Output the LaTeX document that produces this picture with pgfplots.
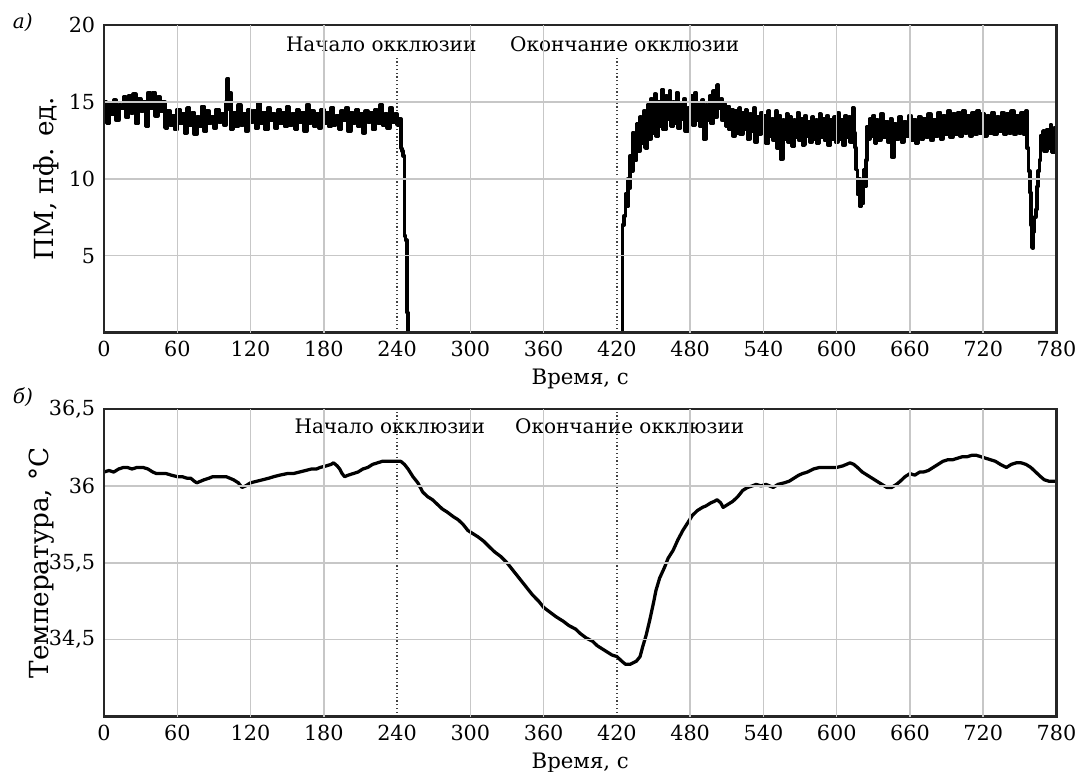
\documentclass[border=0pt]{standalone}
\usepackage{fontspec}
\setmainfont{DejaVu Serif}
\usepackage{pgfplots}
\pgfplotsset{compat=1.18}

\pgfplotstableread{
t v
0 15.0
2 13.6
4 14.9
6 14.2
8 15.1
10 13.8
12 14.8
14 14.6
16 15.3
18 14.0
20 15.4
22 14.3
24 15.5
26 13.6
28 15.2
30 14.4
32 15.0
34 13.4
36 15.6
38 14.6
40 15.6
42 14.1
44 15.3
46 14.4
48 15.0
50 13.3
52 14.4
54 13.5
56 14.1
58 13.2
60 14.5
62 13.6
64 14.2
66 13.0
68 14.6
70 13.5
72 14.3
74 12.9
76 14.0
78 13.4
80 14.7
82 13.1
84 14.4
86 13.6
88 14.0
90 13.3
92 14.5
94 13.7
96 14.2
98 13.5
100 15.0
101 16.5
102 14.5
103 15.6
104 13.2
106 14.3
108 13.4
110 14.8
112 13.5
114 14.2
116 13.1
118 14.5
120 13.7
122 14.4
124 13.3
126 14.9
128 13.6
130 14.3
132 13.2
134 14.6
136 13.8
138 14.2
140 13.3
142 14.5
144 13.6
146 14.3
148 13.4
150 14.7
152 13.5
154 14.2
156 13.2
158 14.5
160 13.7
162 14.3
164 13.1
166 14.8
168 13.6
170 14.4
172 13.4
174 14.2
176 13.3
178 14.5
180 13.6
182 14.3
184 13.4
186 14.6
188 13.5
190 14.1
192 13.2
194 14.4
196 13.8
198 14.6
200 13.1
202 14.3
204 13.6
206 14.5
208 13.4
210 14.2
212 13.0
214 14.4
216 13.7
218 14.3
220 13.2
222 14.5
224 13.6
226 14.8
228 13.5
230 14.2
232 13.3
234 14.6
236 13.7
238 14.2
240 13.5
242 13.9
243 12.0
244 11.8
245 11.5
246 6.3
247 6.0
248 1.3
249 0
300 0
360 0
423 0
424 0
424.5 7.0
426 7.6
427 9.0
428 8.2
429 10.0
430 9.4
431 11.5
432 10.5
433 13.0
434 11.2
436 13.6
437 11.8
439 14.0
440 12.3
442 14.4
443 12.0
445 14.8
446 12.6
448 15.2
449 13.0
451 15.5
452 12.8
454 15.0
455 13.4
457 15.8
458 13.2
460 15.4
461 13.9
463 15.7
464 13.4
466 15.0
467 13.6
469 15.6
470 13.3
472 14.8
473 13.9
475 15.2
476 13.1
478 14.6
479 13.7
481 15.4
482 13.5
484 15.6
485 13.8
487 14.9
488 13.4
490 15.1
491 12.6
493 14.8
494 13.8
496 15.4
497 13.6
499 15.7
500 14.0
502 16.1
503 14.6
505 15.2
506 13.8
508 14.9
509 13.4
511 14.7
512 13.2
514 14.5
515 12.8
517 14.4
518 13.0
520 14.6
521 12.9
523 14.3
524 13.2
526 14.5
527 12.6
529 14.2
530 13.1
532 14.6
533 12.4
535 14.0
536 12.9
538 14.3
539 13.0
541 14.1
542 12.3
544 14.4
545 12.8
547 13.9
548 12.5
550 14.4
551 12.0
553 14.1
554 11.3
556 13.8
557 12.6
559 14.2
560 12.4
562 14.0
563 12.1
565 13.8
566 12.7
568 14.3
569 12.5
571 13.9
572 12.2
574 14.1
575 12.8
577 13.7
578 12.4
580 14.0
581 12.6
583 13.8
584 12.3
586 14.2
587 12.7
589 13.9
590 12.5
592 14.1
593 12.2
595 13.8
596 12.6
598 14.0
599 12.4
601 14.3
602 12.6
604 13.8
605 12.2
607 14.1
608 12.7
610 14.0
611 12.4
613 14.6
614 13.0
615 12.0
616 10.6
617 9.0
618 10.0
619 8.2
620 9.4
621 8.4
622 10.6
623 9.5
624 11.2
625 13.4
626 12.6
627 13.9
628 12.8
630 14.1
631 12.3
632 13.8
634 12.5
636 14.2
638 12.7
640 13.7
642 12.4
644 13.9
645 11.4
647 13.6
649 12.6
651 14.0
653 12.4
655 13.7
657 12.8
659 14.1
661 12.5
663 13.8
665 12.3
667 14.0
669 12.6
671 13.9
673 12.7
675 14.2
677 12.5
679 13.8
681 12.8
683 14.3
685 12.6
687 14.1
689 12.9
691 14.4
693 12.7
695 14.2
697 12.9
699 14.3
701 12.8
703 14.4
705 13.0
707 14.1
709 12.8
711 14.3
713 12.9
715 14.4
717 13.0
719 14.2
721 12.8
723 14.1
725 13.0
727 14.3
729 12.9
731 14.0
733 13.1
735 14.3
737 12.9
739 14.2
741 13.0
743 14.4
745 12.9
747 14.1
749 13.0
751 14.3
753 12.9
755 14.4
756 12.0
757 10.5
758 9.1
759 7.0
760 5.5
761 6.5
762 7.5
763 8.0
764 9.5
765 10.5
766 11.2
767 12.8
768 11.9
769 13.1
770 11.8
772 13.2
773 12.0
775 13.5
776 11.7
778 13.3
779 12.2
780 12.9
}\pmdata

\pgfplotstableread{
t T
0 36.09
4 36.10
8 36.09
12 36.11
16 36.12
19 36.12
23 36.11
27 36.12
32 36.12
36 36.11
40 36.09
43 36.08
47 36.08
51 36.08
55 36.07
60 36.06
64 36.06
68 36.05
71 36.05
74 36.03
76 36.02
79 36.03
82 36.04
86 36.05
89 36.06
93 36.06
97 36.06
100 36.06
103 36.05
106 36.04
110 36.02
113 35.99
116 36.00
120 36.02
125 36.03
130 36.04
135 36.05
139 36.06
144 36.07
150 36.08
155 36.08
160 36.09
165 36.10
170 36.11
174 36.11
177 36.12
182 36.13
186 36.14
188 36.15
191 36.13
193 36.11
195 36.08
197 36.06
200 36.07
204 36.08
208 36.09
212 36.11
216 36.12
220 36.14
224 36.15
228 36.16
233 36.16
238 36.16
243 36.16
246 36.14
249 36.11
253 36.06
257 36.02
261 35.96
265 35.93
269 35.91
273 35.88
277 35.85
281 35.83
286 35.80
290 35.78
294 35.75
298 35.71
302 35.69
306 35.67
311 35.64
316 35.60
320 35.57
325 35.54
330 35.50
334 35.46
338 35.42
343 35.37
347 35.33
351 35.29
356 35.25
360 35.21
365 35.18
370 35.15
376 35.12
381 35.09
386 35.07
390 35.04
395 35.01
400 34.99
404 34.96
408 34.94
412 34.92
416 34.90
420 34.89
424 34.86
427 34.84
431 34.84
436 34.86
439 34.89
441 34.95
444 35.03
447 35.13
450 35.24
452 35.32
455 35.40
459 35.47
462 35.53
466 35.58
470 35.65
474 35.71
478 35.76
482 35.81
486 35.84
490 35.86
493 35.87
497 35.89
500 35.90
502 35.91
505 35.89
507 35.86
511 35.88
515 35.90
519 35.93
523 35.97
527 35.99
531 36.00
534 36.01
538 36.00
542 36.01
545 36.00
548 35.99
552 36.01
557 36.02
561 36.03
565 36.05
569 36.07
572 36.08
576 36.09
581 36.11
586 36.12
590 36.12
595 36.12
600 36.12
605 36.13
608 36.14
611 36.15
614 36.14
617 36.12
621 36.09
625 36.07
629 36.05
633 36.03
637 36.01
641 35.99
645 35.99
649 36.01
652 36.03
656 36.06
660 36.08
664 36.07
668 36.09
671 36.09
675 36.10
679 36.12
683 36.14
687 36.16
691 36.17
695 36.17
699 36.18
703 36.19
707 36.19
711 36.20
714 36.20
718 36.19
722 36.18
726 36.17
730 36.16
734 36.14
739 36.12
743 36.14
747 36.15
751 36.15
755 36.14
759 36.12
763 36.09
767 36.06
770 36.04
774 36.03
780 36.03
}\tempdata

\pgfplotsset{myax/.style={
  scale only axis, width=381pt, height=123pt,
  xmin=0, xmax=780, xtick={0,60,...,780},
  extra x ticks={60,120,180,300,360,480,540,600,660,720},
  extra x tick labels={},
  extra x tick style={xmajorgrids=true},
  ymajorgrids,
  grid style={black!22, line width=0.6pt},
  major tick length=0pt,
  axis line style={line width=0.9pt, black!85},
  tick label style={font=\fontsize{8.3}{9}\selectfont},
  xlabel style={font=\fontsize{8.5}{9}\selectfont, yshift=2pt},
  ylabel style={font=\fontsize{10.5}{11}\selectfont},
  /pgf/number format/assume math mode=true,
  xlabel={Время, с},
  axis on top,
}}

\begin{document}
\begin{tikzpicture}
\useasboundingbox (-41.6pt,-175.6pt) rectangle (388.4pt,133pt);
\begin{axis}[myax, at={(0,0)}, anchor=south west,
  ymin=0, ymax=20, ytick={5,10,15,20},
  ylabel={ПМ, пф. ед.}, ylabel style={yshift=-3pt}]
\node[fill=white, inner sep=1.5pt, font=\fontsize{8}{9}\selectfont] at (axis cs:227,18.77) {Начало окклюзии};
\node[fill=white, inner sep=1.5pt, font=\fontsize{8}{9}\selectfont] at (axis cs:426.4,18.77) {Окончание окклюзии};
\addplot[black!75, densely dotted, line width=0.5pt] coordinates {(240,0) (240,18)};
\addplot[black!75, densely dotted, line width=0.5pt] coordinates {(420,0) (420,18)};
\addplot[black, line width=1.5pt, line join=round, const plot] table[x=t, y=v] {\pmdata};
\end{axis}
\node[font=\fontsize{8}{9}\selectfont\itshape, anchor=west] at (-40pt,124.2pt) {а)};
\begin{axis}[myax, at={(0,-153.6pt)}, anchor=south west,
  ymin=34.5, ymax=36.5, ytick={35,35.5,36,36.5},
  yticklabels={{34,5},{35,5},{36},{36,5}},
  ylabel={Температура, °C}, ylabel style={yshift=-9pt}]
\node[fill=white, inner sep=1.5pt, font=\fontsize{8}{9}\selectfont] at (axis cs:234,36.39) {Начало окклюзии};
\node[fill=white, inner sep=1.5pt, font=\fontsize{8}{9}\selectfont] at (axis cs:430.5,36.39) {Окончание окклюзии};
\addplot[black!75, densely dotted, line width=0.5pt] coordinates {(240,34.5) (240,36.5)};
\addplot[black!75, densely dotted, line width=0.5pt] coordinates {(420,34.5) (420,36.5)};
\addplot[black, line width=1.3pt, line join=round] table[x=t, y=T] {\tempdata};
\end{axis}
\node[font=\fontsize{8}{9}\selectfont\itshape, anchor=west] at (-40pt,-26pt) {б)};
\end{tikzpicture}
\end{document}
